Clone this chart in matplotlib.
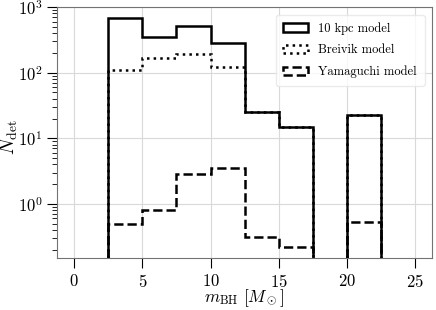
"""Detected BH mass distribution for three models"""
import numpy as np
import matplotlib
matplotlib.use("Agg")
import matplotlib.pyplot as plt

plt.rcParams['font.family'] = 'serif'
plt.rcParams['font.serif'] = ['cmr10']
plt.rcParams['mathtext.fontset'] = 'cm'
plt.rcParams['axes.formatter.use_mathtext'] = True

# histogram bins (solar masses)
bin_edges = [0, 2.5, 5, 7.5, 10, 12.5, 15, 17.5, 20, 22.5, 25]

# detections per bin
n_10kpc = [0, 680, 345, 510, 285, 25, 15, 0, 22.5, 0]
n_breivik = [0, 110, 170, 190, 122, 25, 15, 0, 22.5, 0]
n_yamaguchi = [0, 0.5, 0.82, 2.9, 3.5, 0.31, 0.22, 0, 0.53, 0]

labels = ['10 kpc model', 'Breivik model', 'Yamaguchi model']
styles = ['-', ':', '--']

fig = plt.figure(figsize=(4.36, 3.10), dpi=100)
ax = fig.add_axes([0.131, 0.168, 0.86, 0.809])

edges = np.array(bin_edges)
centers = 0.5 * (edges[1:] + edges[:-1])
for vals, lab, ls in zip([n_10kpc, n_breivik, n_yamaguchi], labels, styles):
    ax.hist(centers, bins=edges, weights=vals, histtype='step', log=True,
            color='black', linestyle=ls, linewidth=1.8, label=lab)

ax.set_xlim(-1.25, 26.25)
ax.set_ylim(0.15, 1000)
ax.set_xticks([0, 5, 10, 15, 20, 25])
ax.tick_params(labelsize=12, direction='out')
ax.tick_params(which='major', length=7)
ax.tick_params(which='minor', length=3.5)
ax.grid(True, color='0.85', linewidth=0.8)
ax.set_axisbelow(True)
for s in ax.spines.values():
    s.set_color('0.45')

ax.set_xlabel(r'$m_{\rm BH}\ [M_\odot]$', fontsize=12.5)
ax.xaxis.set_label_coords(0.5, -0.118)
ax.set_ylabel(r'$N_{\rm det}$', fontsize=14)
ax.yaxis.set_label_coords(-0.098, 0.48)
ax.legend(loc='upper right', fontsize=9, framealpha=0.8, edgecolor='0.9',
          borderpad=0.6, labelspacing=0.75, borderaxespad=0.6)

fig.savefig('out.png', dpi=100)
